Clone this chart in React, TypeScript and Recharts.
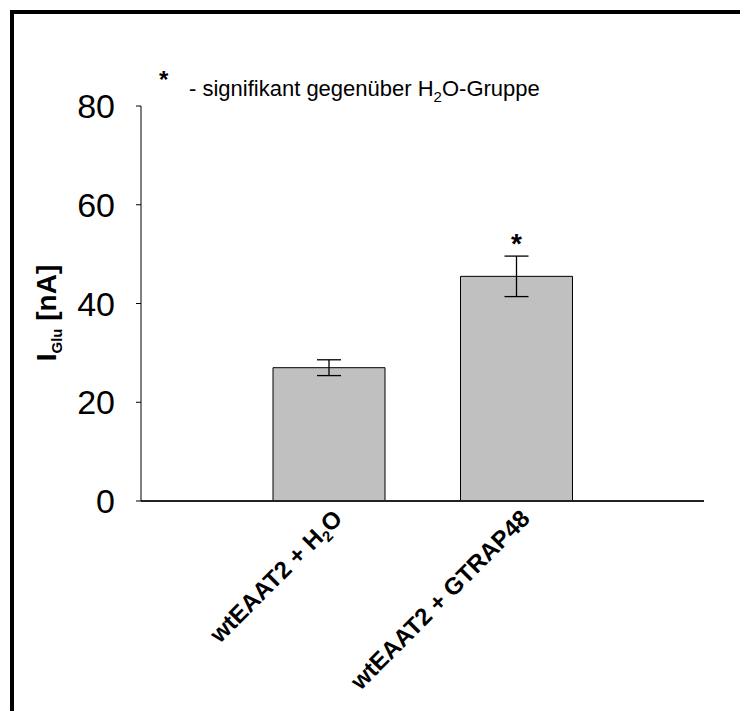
import React from 'react';
import { BarChart, Bar, XAxis, YAxis, ErrorBar, LabelList } from 'recharts';

const categories = ['wtEAAT2 + H2O', 'wtEAAT2 + GTRAP48'];
const currents = [27, 45.5];
const errors = [1.6, 4.1];
const significant = [false, true];
const yTicks = [0, 20, 40, 60, 80];

const FONT = "'Liberation Sans', Arial, sans-serif";

const data = categories.map((name, i) => ({
  name,
  value: currents[i],
  err: errors[i],
  sig: significant[i],
}));

// renders "H2O" with a subscript 2
const withSubscript = (text: string, subSize: number, shift: number) => {
  const parts = text.split('H2O');
  if (parts.length === 1) return text;
  return (
    <>
      {parts[0]}H
      <tspan dy={shift} fontSize={subSize}>2</tspan>
      <tspan dy={-shift}>O</tspan>
      {parts[1]}
    </>
  );
};

const CategoryTick = (props: any) => {
  const { x, y, payload } = props;
  return (
    <g transform={`translate(${x + 3},${y + 7})`}>
      <text
        transform="rotate(-45)"
        textAnchor="end"
        dy="0.71em"
        fontFamily={FONT}
        fontWeight="bold"
        fontSize={24}
        fill="#000"
      >
        {withSubscript(payload.value, 15, 5)}
      </text>
    </g>
  );
};

const StarLabel = (props: any) => {
  const { x, y, width, height, value, index } = props;
  if (!significant[index]) return null;
  const pxPerUnit = height / value;
  const errTop = y - errors[index] * pxPerUnit;
  return (
    <text
      x={x + width / 2}
      y={errTop - 3}
      textAnchor="middle"
      fontFamily={FONT}
      fontWeight="bold"
      fontSize={28}
      fill="#000"
    >
      *
    </text>
  );
};

export default function App() {
  return (
    <div style={{ position: 'absolute', left: 0, top: 0, width: 740, height: 711, background: '#fff' }}>
      <div
        style={{
          position: 'absolute',
          left: 10,
          top: 10,
          width: 740,
          height: 711,
          borderTop: '4px solid #000',
          borderLeft: '4px solid #000',
        }}
      />
      <BarChart
        width={740}
        height={711}
        data={data}
        margin={{ top: 106, right: 36, bottom: 180, left: 41 }}
        style={{ position: 'absolute', left: 0, top: 0 }}
      >
        <XAxis
          dataKey="name"
          height={30}
          padding={{ left: 94, right: 94 }}
          axisLine={{ stroke: '#222', strokeWidth: 2 }}
          tickLine={false}
          tickSize={0}
          tickMargin={0}
          interval={0}
          tick={<CategoryTick />}
        />
        <YAxis
          width={100}
          domain={[0, 80]}
          ticks={yTicks}
          interval={0}
          axisLine={{ stroke: '#000', strokeWidth: 1 }}
          tickLine={{ stroke: '#000', strokeWidth: 1 }}
          tickSize={5}
          tickMargin={21}
          tick={{ fill: '#000', fontSize: 34, fontFamily: FONT }}
        />
        <Bar dataKey="value" fill="#C0C0C0" stroke="#000" strokeWidth={1} barSize={112} isAnimationActive={false}>
          <ErrorBar dataKey="err" width={12} stroke="#000" strokeWidth={1.3} />
          <LabelList dataKey="value" content={<StarLabel />} />
        </Bar>
      </BarChart>
      <svg width={740} height={711} style={{ position: 'absolute', left: 0, top: 0, pointerEvents: 'none' }}>
        <text x={159} y={88} fontFamily={FONT} fontWeight="bold" fontSize={24} fill="#000">*</text>
        <text x={189} y={96} fontFamily={FONT} fontSize={22} fill="#000">
          {withSubscript('- signifikant gegenüber H2O-Gruppe', 15, 6)}
        </text>
        <text
          transform="translate(56,313) rotate(-90)"
          textAnchor="middle"
          fontFamily={FONT}
          fontWeight="bold"
          fontSize={28}
          fill="#000"
        >
          I<tspan dy={6} fontSize={15}>Glu</tspan>
          <tspan dy={-6}> [nA]</tspan>
        </text>
      </svg>
    </div>
  );
}
